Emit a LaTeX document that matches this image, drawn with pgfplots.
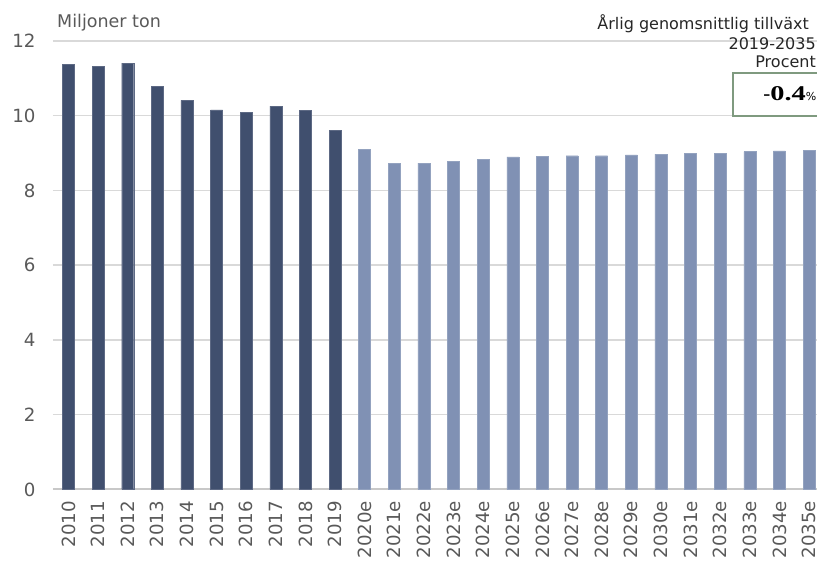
\documentclass[border=0pt]{standalone}
\usepackage{pgfplots}
\pgfplotsset{compat=1.18}
\usepackage{fontspec}
\setmainfont{DejaVu Sans}
\newfontfamily\serifb{Liberation Serif}[FakeStretch=1.35]
\newfontfamily\serifr{Liberation Serif}
\definecolor{dark}{RGB}{64,79,110}
\definecolor{light}{RGB}{128,145,180}
\definecolor{gridc}{RGB}{217,217,217}
\definecolor{axc}{RGB}{200,200,200}
\definecolor{txt}{RGB}{89,89,89}
\definecolor{boxc}{RGB}{127,154,127}
\begin{document}
\begin{tikzpicture}
\begin{axis}[
  name=ax,
  scale only axis,
  width=764pt, height=448.5pt,
  xmin=-0.523, xmax=25.27,
  ymin=0, ymax=12,
  ytick={0,2,...,12},
  xtick={0,...,25},
  xticklabels={2010,2011,2012,2013,2014,2015,2016,2017,2018,2019,2020e,2021e,2022e,2023e,2024e,2025e,2026e,2027e,2028e,2029e,2030e,2031e,2032e,2033e,2034e,2035e},
  /pgf/number format/assume math mode=true,
  yticklabel style={font=\fontsize{18.2}{20}\selectfont, text=txt, xshift=-14pt},
  xticklabel style={font=\fontsize{18.2}{20}\selectfont, text=txt, rotate=90, anchor=east, xshift=-8pt},
  major tick length=0pt,
  axis x line*=bottom,
  axis y line*=left,
  y axis line style={draw=none},
  x axis line style={draw=axc, line width=2pt},
  ymajorgrids,
  grid style={draw=gridc, line width=1.5pt},
  bar width=12pt,
]
\addplot[ybar, bar shift=0pt, fill=dark, draw=dark!85!white, line width=0.4pt] coordinates {
(0,11.38) (1,11.33) (2,11.41) (3,10.79) (4,10.41) (5,10.16) (6,10.10) (7,10.26) (8,10.14) (9,9.61)};
\addplot[ybar, bar shift=0pt, fill=light, draw=light!85!white, line width=0.4pt] coordinates {
(10,9.11) (11,8.73) (12,8.73) (13,8.78) (14,8.84) (15,8.90) (16,8.91) (17,8.93) (18,8.93) (19,8.95) (20,8.97) (21,8.99) (22,9.00) (23,9.04) (24,9.06) (25,9.08)};
\end{axis}
\node[anchor=base west, text=txt, font=\fontsize{17.5}{19}\selectfont, inner sep=0pt] at ([shift={(4pt,13pt)}]ax.north west) {Miljoner ton};
\node[anchor=base east, text=black!85, font=\fontsize{16}{18}\selectfont, inner sep=0pt] at ([shift={(-8pt,11pt)}]ax.north east) {Årlig genomsnittlig tillväxt};
\node[anchor=base east, text=black!85, font=\fontsize{16}{18}\selectfont, inner sep=0pt] at ([shift={(-1pt,-9pt)}]ax.north east) {2019-2035};
\node[anchor=base east, text=black!85, font=\fontsize{16}{18}\selectfont, inner sep=0pt] at ([shift={(-1pt,-27pt)}]ax.north east) {Procent};
\fill[white] ([shift={(-84pt,-32pt)}]ax.north east) rectangle ([shift={(6pt,-75pt)}]ax.north east);
\draw[boxc, line width=2pt] ([shift={(6pt,-32pt)}]ax.north east) -- ([shift={(-84pt,-32pt)}]ax.north east) -- ([shift={(-84pt,-75pt)}]ax.north east) -- ([shift={(6pt,-75pt)}]ax.north east);
\node[anchor=base east, inner sep=0pt, text=black] at ([shift={(-0.5pt,-60pt)}]ax.north east) {{\serifr\fontsize{21}{22}\selectfont -}{\serifb\fontsize{21}{22}\selectfont\textbf{0.4}}{\fontsize{11}{12}\selectfont\%}};
\pgfresetboundingbox
\path[use as bounding box] ([shift={(-53pt,-75.5pt)}]ax.south west) rectangle ([shift={(0pt,41pt)}]ax.north east);
\end{tikzpicture}
\end{document}
